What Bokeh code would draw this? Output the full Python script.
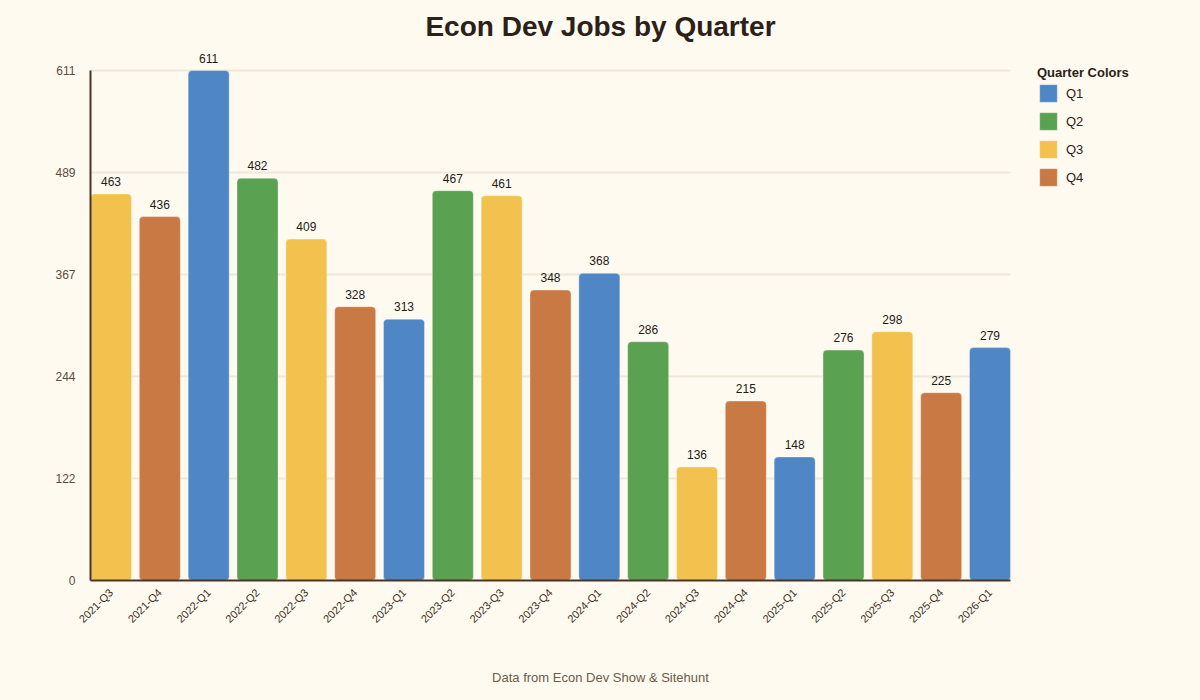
from bokeh.plotting import figure
from bokeh.models import (ColumnDataSource, Range1d, FixedTicker, LabelSet, Label,
                          Legend, LegendItem, LinearAxis)
from bokeh.core.properties import value
from bokeh.embed import file_html
from bokeh.resources import INLINE
from math import pi

# ---- data ----
categories = ["2021-Q3", "2021-Q4", "2022-Q1", "2022-Q2", "2022-Q3", "2022-Q4",
              "2023-Q1", "2023-Q2", "2023-Q3", "2023-Q4", "2024-Q1", "2024-Q2",
              "2024-Q3", "2024-Q4", "2025-Q1", "2025-Q2", "2025-Q3", "2025-Q4",
              "2026-Q1"]
jobs = [463, 436, 611, 482, 409, 328, 313, 467, 461, 348, 368, 286,
        136, 215, 148, 276, 298, 225, 279]
quarter_names = ["Q1", "Q2", "Q3", "Q4"]
quarter_colors = ["#4f87c6", "#5aa151", "#f2c14e", "#c97943"]
y_ticks = [0, 122.2, 244.4, 366.6, 488.8, 611]
y_tick_labels = ["0", "122", "244", "367", "489", "611"]

BG = "#fffaf0"
FONT = "Liberation Sans"

# ---- layout (pixels) ----
W, H = 1200, 700
AX_LEFT, AX_RIGHT = 90, 1010      # extent of the axes / bars
AX_TOP, AX_BOTTOM = 70, 580       # extent of the y axis
FRAME_TOP = 0                     # frame extended up/right so legend & title fit inside
BAR_W = 0.84

xs = list(range(len(categories)))
quarters = [c.split("-")[1] for c in categories]

x_lo = -BAR_W / 2
x_hi = len(categories) - 1 + BAR_W / 2
unit_px = (AX_RIGHT - AX_LEFT) / (x_hi - x_lo)
x_end = x_lo + (W - AX_LEFT) / unit_px
x_mid_page = x_lo + (W / 2 - AX_LEFT) / unit_px
y_max = y_ticks[-1]
y_end = y_max * (AX_BOTTOM - FRAME_TOP) / (AX_BOTTOM - AX_TOP)

p = figure(width=W, height=H, output_backend="svg", toolbar_location=None,
           x_range=Range1d(x_lo, x_end), y_range=Range1d(0, y_end),
           min_border_left=AX_LEFT, min_border_right=0,
           min_border_top=FRAME_TOP, min_border_bottom=H - AX_BOTTOM,
           background_fill_color=BG, border_fill_color=BG)
p.outline_line_color = None

# horizontal grid lines limited to the axes extent
p.segment(x0=[x_lo] * len(y_ticks), x1=[x_hi] * len(y_ticks), y0=y_ticks, y1=y_ticks,
          line_color="#efe7d8", line_width=2)

renderers = {}
for qi, q in enumerate(quarter_names):
    idx = [i for i in xs if quarters[i] == q]
    src = ColumnDataSource(dict(x=[xs[i] for i in idx], top=[jobs[i] for i in idx]))
    r = p.vbar(x="x", top="top", bottom=0, width=BAR_W, source=src,
               fill_color=quarter_colors[qi], line_color="white", line_alpha=0.35,
               line_width=1, border_radius=4)
    renderers[q] = r

lbl_src = ColumnDataSource(dict(x=xs, y=jobs, t=[str(v) for v in jobs]))
labels = LabelSet(x="x", y="y", text="t", source=lbl_src, y_offset=8,
                  text_align="center", text_baseline="alphabetic",
                  text_font=value(FONT), text_font_size=value("12px"),
                  text_color=value("#1e1a16"))
p.add_layout(labels)

# axes
p.xaxis.bounds = (x_lo, x_hi)
p.xaxis.ticker = FixedTicker(ticks=xs)
p.xaxis.major_label_overrides = {i: c for i, c in zip(xs, categories)}
p.xaxis.major_label_orientation = pi / 4
p.xaxis.major_label_text_font = FONT
p.xaxis.major_label_text_font_size = "11px"
p.xaxis.major_label_text_color = "#3d2e22"
p.xaxis.major_label_standoff = 4
p.xaxis.major_tick_line_color = None
p.xaxis.minor_tick_line_color = None
p.xaxis.axis_line_color = "#4a3526"
p.xaxis.axis_line_width = 2

p.yaxis.bounds = (0, y_max)
p.yaxis.ticker = FixedTicker(ticks=y_ticks)
p.yaxis.major_label_overrides = {t: l for t, l in zip(y_ticks, y_tick_labels)}
p.yaxis.major_label_text_font = FONT
p.yaxis.major_label_text_font_size = "12px"
p.yaxis.major_label_text_color = "#5c4b3c"
p.yaxis.major_label_standoff = 9
p.yaxis.major_tick_line_color = None
p.yaxis.minor_tick_line_color = None
p.yaxis.axis_line_color = "#4a3526"
p.yaxis.axis_line_width = 2

p.xgrid.grid_line_color = None
p.ygrid.grid_line_color = None

# footer: single tick label of a bare secondary axis, centred on the page
foot_axis = LinearAxis(ticker=FixedTicker(ticks=[x_mid_page]),
                       major_label_overrides={x_mid_page: "Data from Econ Dev Show & Sitehunt"},
                       axis_line_color=None, major_tick_line_color=None,
                       minor_tick_line_color=None,
                       major_label_text_font=FONT, major_label_text_font_size="13px",
                       major_label_text_color="#6b5a4a", major_label_standoff=31)
p.add_layout(foot_axis, "below")

# legend (inside the extended frame, right of the bars)
items = [LegendItem(label=q, renderers=[renderers[q]]) for q in quarter_names]
legend = Legend(items=items, location=(947, 392), title="Quarter Colors",
                title_text_font=FONT, title_text_font_style="bold",
                title_text_font_size="13px", title_text_color="#2b2118",
                title_standoff=2,
                label_text_font=FONT, label_text_font_size="13px",
                label_text_color="#2b2118", label_standoff=7,
                glyph_width=22, glyph_height=22, label_height=22,
                spacing=6, padding=0, margin=0,
                border_line_color=None, background_fill_alpha=0)
p.add_layout(legend, "center")

# title
p.add_layout(Label(x=W / 2, y=26, x_units="canvas", y_units="canvas",
                   text="Econ Dev Jobs by Quarter", text_align="center",
                   text_baseline="middle", text_font=FONT, text_font_size="28px",
                   text_font_style="bold", text_color="#2b2118"))

html = file_html(p, INLINE)
html = html.replace("</head>", "<style>body{background:%s;}</style></head>" % BG, 1)
open("out.html", "w").write(html)
